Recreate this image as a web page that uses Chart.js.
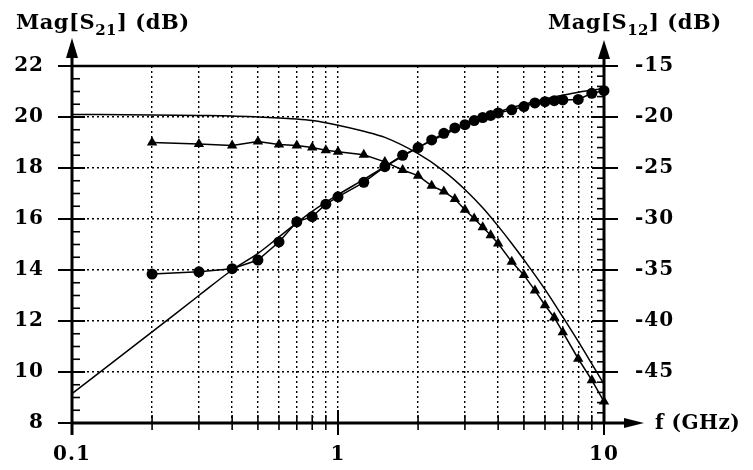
<!DOCTYPE html>
<html lang="en">
<head>
<meta charset="UTF-8">
<title>Mag S21 / S12 vs frequency</title>
<script src="https://cdn.jsdelivr.net/npm/chart.js"></script>
<style>
  body { margin: 0; background: #fff; }
  .wrap { position: relative; width: 753px; height: 470px; }
</style>
</head>
<body>
<div class="wrap"><canvas id="sParams"></canvas></div>
<script>
// frequency axis (GHz), log scale
const freqTicks = [0.1, 0.2, 0.3, 0.4, 0.5, 0.6, 0.7, 0.8, 0.9, 1, 2, 3, 4, 5, 6, 7, 8, 9, 10];
const freqLabels = ['0.1', '1', '10'];

// |S21| measured (dB, left axis)
const s21MeasFreq = [0.2, 0.3, 0.4, 0.5, 0.6, 0.7, 0.8, 0.9, 1.0, 1.25, 1.5, 1.75, 2.0, 2.25, 2.5, 2.75, 3.0, 3.25, 3.5, 3.75, 4.0, 4.5, 5.0, 5.5, 6.0, 6.5, 7.0, 8.0, 9.0, 10];
const s21Meas = [13.84, 13.93, 14.05, 14.39, 15.1, 15.89, 16.09, 16.58, 16.87, 17.44, 18.05, 18.5, 18.8, 19.1, 19.36, 19.57, 19.7, 19.86, 19.98, 20.06, 20.16, 20.28, 20.41, 20.55, 20.6, 20.64, 20.67, 20.69, 20.93, 21.03];

// |S21| model (dB, left axis)
const s21ModelFreq = [0.1, 0.2, 0.3, 0.4, 0.5, 0.6, 0.7, 0.8, 1.0, 1.25, 1.5, 2, 2.5, 3, 4, 5, 6, 7, 8, 9, 10];
const s21Model = [9.15, 11.57, 13.0, 14.0, 14.65, 15.3, 15.85, 16.3, 16.95, 17.55, 18.05, 18.8, 19.3, 19.7, 20.2, 20.5, 20.7, 20.85, 20.97, 21.05, 21.12];

// |S12| measured (dB, right axis)
const s12MeasFreq = [0.2, 0.3, 0.4, 0.5, 0.6, 0.7, 0.8, 0.9, 1.0, 1.25, 1.5, 1.75, 2.0, 2.25, 2.5, 2.75, 3.0, 3.25, 3.5, 3.75, 4.0, 4.5, 5.0, 5.5, 6.0, 6.5, 7.0, 8.0, 9.0, 10];
const s12Meas = [-22.5, -22.65, -22.8, -22.4, -22.7, -22.8, -23.0, -23.25, -23.4, -23.7, -24.4, -25.2, -25.75, -26.75, -27.3, -28.05, -29.1, -29.95, -30.8, -31.6, -32.4, -34.2, -35.5, -37.0, -38.45, -39.65, -41.1, -43.7, -45.8, -47.9];

// |S12| model (dB, right axis)
const s12ModelFreq = [0.1, 0.2, 0.3, 0.4, 0.5, 0.6, 0.7, 0.8, 1.0, 1.25, 1.5, 2, 2.5, 3, 3.5, 4, 4.5, 5, 6, 7, 8, 9, 10];
const s12Model = [-19.75, -19.8, -19.85, -19.9, -20.0, -20.1, -20.2, -20.35, -20.8, -21.4, -22.0, -23.6, -25.3, -27.1, -28.9, -30.7, -32.4, -34.0, -36.9, -39.6, -42.0, -44.2, -46.2];

const FONT = 'DejaVu Serif';
const pts = (xs, ys) => xs.map((f, i) => ({ x: f, y: ys[i] }));

// axis lines, arrows, tick marks and the two axis titles
const axisDecor = {
    id: 'axisDecor',
    beforeDraw(chart) {
        chart.ctx.letterSpacing = '1px';
    },
    afterDraw(chart) {
        const { ctx, chartArea: a, scales } = chart;
        const sx = scales.x, yl = scales.y, yr = scales.y1;

        ctx.save();
        ctx.letterSpacing = '0px';
        ctx.strokeStyle = '#000';
        ctx.fillStyle = '#000';

        function line(x1, y1, x2, y2, w) {
            ctx.lineWidth = w;
            ctx.beginPath();
            ctx.moveTo(x1, y1);
            ctx.lineTo(x2, y2);
            ctx.stroke();
        }
        function head(p) {
            ctx.beginPath();
            ctx.moveTo(p[0], p[1]);
            ctx.lineTo(p[2], p[3]);
            ctx.lineTo(p[4], p[5]);
            ctx.closePath();
            ctx.fill();
        }

        // frame
        line(a.left, a.top, a.right, a.top, 2.5);
        line(a.left, a.bottom + 12, a.left, 56, 3);
        line(a.right, a.bottom, a.right, 57, 3);
        line(a.left - 1, a.bottom, a.right + 24, a.bottom, 3);

        // arrows
        head([a.left, 38, a.left - 6, 58, a.left + 6, 58]);
        head([a.right, 40, a.right - 6, 59, a.right + 6, 59]);
        head([a.right + 40, a.bottom, a.right + 20, a.bottom - 5, a.right + 20, a.bottom + 5]);

        // left axis ticks
        for (let v = 8; v <= 22; v += 0.5) {
            const py = yl.getPixelForValue(v);
            if (v % 2 === 0) line(a.left - 14, py, a.left + 13, py, 2);
            else line(a.left, py, a.left + 8, py, 1.6);
        }
        // right axis ticks
        for (let v = -50; v <= -15; v += 1) {
            const py = yr.getPixelForValue(v);
            if (v % 5 === 0) line(a.right - 12, py, a.right + 14, py, 2);
            else line(a.right - 7, py, a.right, py, 1.6);
        }
        // frequency ticks
        freqTicks.forEach(f => {
            const px = sx.getPixelForValue(f);
            const decade = Math.abs(Math.log10(f) - Math.round(Math.log10(f))) < 1e-9;
            if (decade) line(px, a.bottom - 13, px, a.bottom + 12, 2);
            else line(px, a.bottom - 8, px, a.bottom + 7, 1.6);
        });

        // axis titles
        function title(x, sub) {
            ctx.letterSpacing = '0.5px';
            ctx.textBaseline = 'alphabetic';
            ctx.textAlign = 'left';
            ctx.font = 'bold 21px "' + FONT + '"';
            ctx.fillText('Mag[S', x, 29);
            let w = ctx.measureText('Mag[S').width;
            ctx.font = 'bold 15px "' + FONT + '"';
            ctx.fillText(sub, x + w, 35);
            w += ctx.measureText(sub).width;
            ctx.font = 'bold 21px "' + FONT + '"';
            ctx.fillText('] (dB)', x + w, 29);
        }
        title(16, '21');
        title(548, '12');

        ctx.font = 'bold 20px "' + FONT + '"';
        ctx.letterSpacing = '0.5px';
        ctx.textBaseline = 'middle';
        ctx.fillText('f (GHz)', a.right + 51, a.bottom + 1);
        ctx.restore();
    }
};

const tickFont = { family: FONT, size: 20, weight: 'bold' };

const ctx = document.getElementById('sParams').getContext('2d');
new Chart(ctx, {
    type: 'line',
    data: {
        datasets: [
            {
                label: 'S21 measured', data: pts(s21MeasFreq, s21Meas), yAxisID: 'y',
                borderColor: '#000', borderWidth: 1.5, backgroundColor: '#000',
                pointStyle: 'circle', pointRadius: 5.5, pointBorderWidth: 0, clip: false
            },
            {
                label: 'S21 model', data: pts(s21ModelFreq, s21Model), yAxisID: 'y',
                borderColor: '#000', borderWidth: 1.5, pointRadius: 0,
                cubicInterpolationMode: 'monotone', clip: false
            },
            {
                label: 'S12 measured', data: pts(s12MeasFreq, s12Meas), yAxisID: 'y1',
                borderColor: '#000', borderWidth: 1.5, backgroundColor: '#000',
                pointStyle: 'triangle', pointRadius: 6, pointBorderWidth: 0, clip: false
            },
            {
                label: 'S12 model', data: pts(s12ModelFreq, s12Model), yAxisID: 'y1',
                borderColor: '#000', borderWidth: 1.5, pointRadius: 0,
                cubicInterpolationMode: 'monotone', clip: false
            }
        ]
    },
    options: {
        responsive: true,
        maintainAspectRatio: false,
        animation: false,
        layout: { padding: { top: 66, left: 0, right: 0, bottom: 0 } },
        plugins: { legend: { display: false }, tooltip: { enabled: false } },
        scales: {
            x: {
                type: 'logarithmic', min: 0.1, max: 10,
                afterBuildTicks: s => { s.ticks = freqTicks.map(v => ({ value: v })); },
                afterFit: s => { s.height = 47; },
                ticks: {
                    autoSkip: false, maxRotation: 0, color: '#000', padding: 20,
                    font: tickFont,
                    callback: v => {
                        const i = [0.1, 1, 10].indexOf(v);
                        return i >= 0 ? freqLabels[i] : '';
                    }
                },
                grid: { drawTicks: false, color: '#000', lineWidth: 1.4 },
                border: { display: false, dash: [2, 3] }
            },
            y: {
                position: 'left', min: 8, max: 22,
                afterFit: s => { s.width = 72; },
                ticks: { stepSize: 2, color: '#000', padding: 28, font: tickFont },
                grid: { drawTicks: false, color: '#000', lineWidth: 1.4 },
                border: { display: false, dash: [2, 3] }
            },
            y1: {
                position: 'right', min: -50, max: -15,
                afterFit: s => { s.width = 149; },
                afterBuildTicks: s => { s.ticks = s.ticks.filter(t => t.value > -50); },
                ticks: { stepSize: 5, color: '#000', padding: 23, font: tickFont },
                grid: { display: false },
                border: { display: false }
            }
        }
    },
    plugins: [axisDecor]
});
</script>
</body>
</html>
